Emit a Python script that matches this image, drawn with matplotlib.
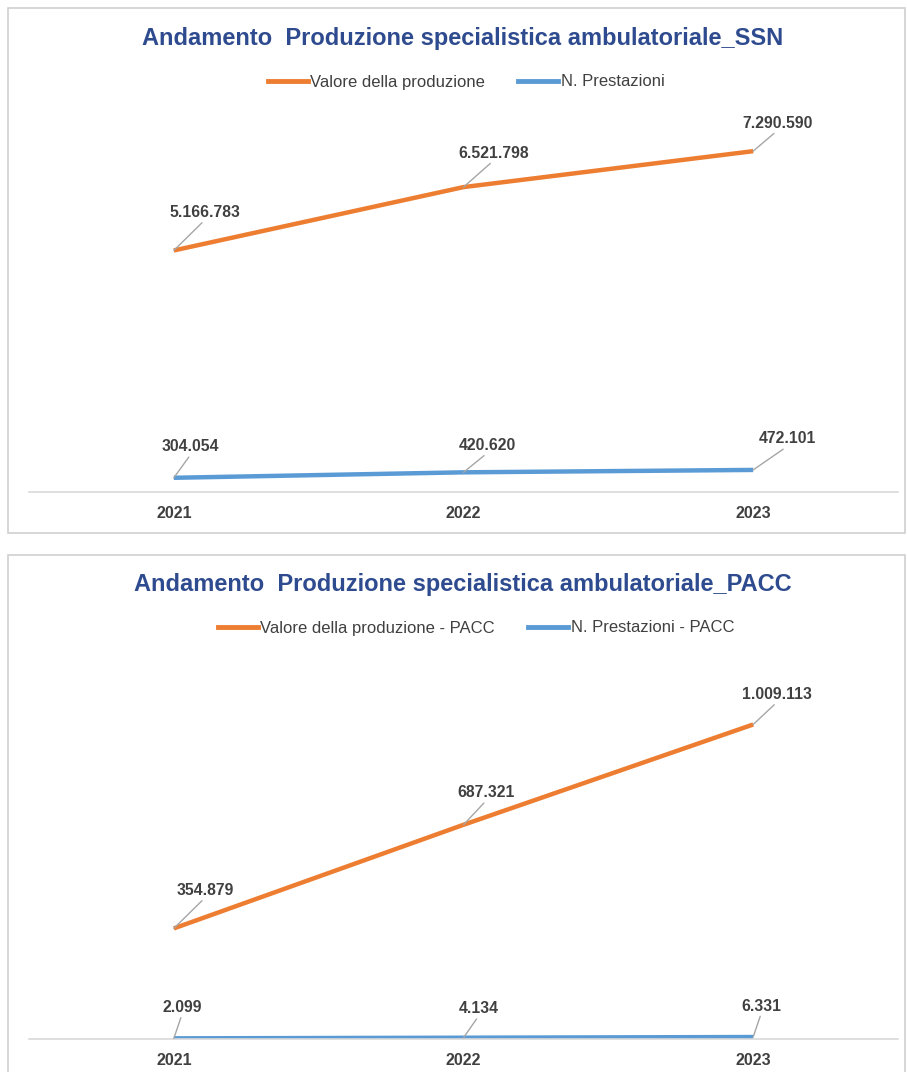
import matplotlib
matplotlib.use("Agg")
import matplotlib.pyplot as plt
from matplotlib.patches import Rectangle

# data
anni = ["2021", "2022", "2023"]
ssn_valore = [5166783, 6521798, 7290590]
ssn_prestazioni = [304054, 420620, 472101]
pacc_valore = [354879, 687321, 1009113]
pacc_prestazioni = [2099, 4134, 6331]

titoli = ["Andamento  Produzione specialistica ambulatoriale_SSN",
          "Andamento  Produzione specialistica ambulatoriale_PACC"]
legende = [["Valore della produzione", "N. Prestazioni"],
           ["Valore della produzione - PACC", "N. Prestazioni - PACC"]]

ORANGE = "#ED7D31"
BLUE = "#5B9BD5"
GREY_TXT = "#404040"
TITLE_COL = "#2F4B8F"
NARROW = ["Liberation Sans Narrow", "Liberation Sans", "DejaVu Sans"]

W, H = 907, 1072
fig = plt.figure(figsize=(W / 100, H / 100), dpi=100)

def px_box(x0, y_top, x1, y_bot):
    # pixel box (from top-left) -> figure fraction
    return [x0 / W, 1 - y_bot / H, (x1 - x0) / W, (y_bot - y_top) / H]

# panel frames
for (yt, yb) in [(8, 533), (555, 1080)]:
    fig.patches.append(Rectangle((8 / W, 1 - yb / H), (905 - 8) / W, (yb - yt) / H,
                                 transform=fig.transFigure, fill=False,
                                 edgecolor="#D0D0D0", lw=1.2))

def format_it(v):
    return f"{v:,}".replace(",", ".")

def draw_panel(ax, valore, prestazioni, ymax, off_v, off_p):
    x = range(len(anni))
    ax.plot(x, valore, color=ORANGE, lw=3.2, solid_capstyle="butt")
    ax.plot(x, prestazioni, color=BLUE, lw=3.2, solid_capstyle="butt")
    for serie, offs in [(valore, off_v), (prestazioni, off_p)]:
        for i, v in enumerate(serie):
            ax.annotate(format_it(v), xy=(i, v), xytext=offs[i], textcoords="offset pixels",
                        ha="center", va="center", fontsize=11.3, fontweight="bold",
                        family="Liberation Sans", color=GREY_TXT,
                        arrowprops=dict(arrowstyle="-", color="#A6A6A6", lw=1,
                                        shrinkA=0, shrinkB=0, relpos=(0.5, 0)))
    ax.set_xlim(-0.5, 2.5)
    ax.set_ylim(0, ymax)
    ax.set_xticks(list(x))
    ax.set_xticklabels(anni, fontsize=11.5, fontweight="bold", family="Liberation Sans",
                       color=GREY_TXT)
    ax.tick_params(axis="x", length=0, pad=10)
    ax.set_yticks([])
    for s in ["top", "left", "right"]:
        ax.spines[s].set_visible(False)
    ax.spines["bottom"].set_color("#D9D9D9")
    ax.spines["bottom"].set_linewidth(1.2)
    ax.patch.set_alpha(0)

ax1 = fig.add_axes(px_box(29, 118, 898, 492))
draw_panel(ax1, ssn_valore, ssn_prestazioni, 8000000,
           [(31, 38), (30, 34), (24, 28)], [(17, 31), (24, 27), (34, 31)])
ax2 = fig.add_axes(px_box(29, 665, 898, 1039))
draw_panel(ax2, pacc_valore, pacc_prestazioni, 1200000,
           [(31, 38), (23, 32), (24, 30)], [(8, 31), (15, 29), (8, 31)])

# titles and legends
for yt, yl, xl, titolo, leg in [(38, 82, 466, titoli[0], legende[0]),
                                (585, 628, 476, titoli[1], legende[1])]:
    fig.text(463 / W, 1 - yt / H, titolo, ha="center", va="center", fontsize=17,
             fontweight="bold", family=NARROW, color=TITLE_COL)
    handles = [plt.Line2D([], [], color=ORANGE, lw=3.5), plt.Line2D([], [], color=BLUE, lw=3.5)]
    fig.legend(handles, leg, loc="center", bbox_to_anchor=(xl / W, 1 - yl / H), ncol=2,
               frameon=False, handlelength=2.4, handletextpad=0.15, columnspacing=2.0,
               prop={"family": NARROW, "size": 12}, labelcolor=GREY_TXT)

fig.savefig("out.png", dpi=100)
